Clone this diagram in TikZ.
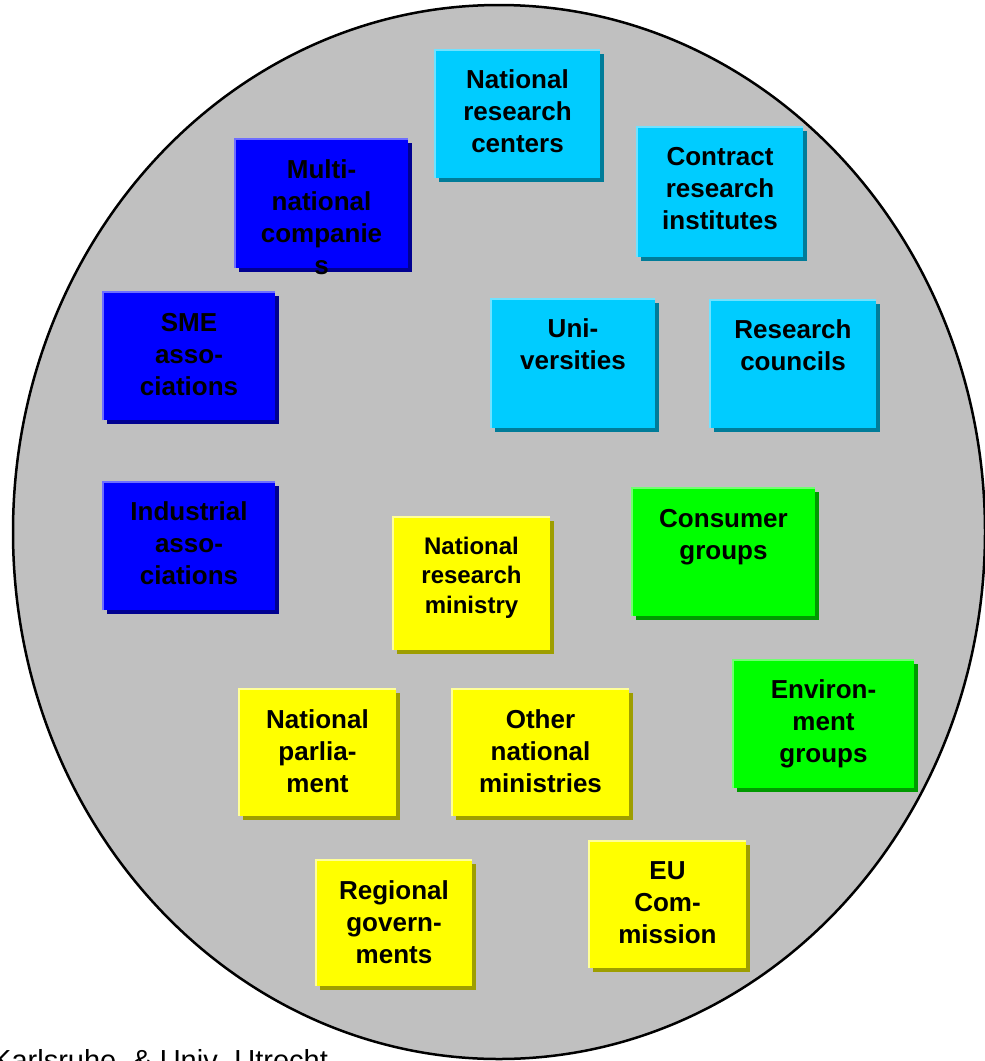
\documentclass[tikz,border=0pt]{standalone}
\usepackage{fontspec}
\setmainfont{Liberation Sans}
\usetikzlibrary{shadows,calc}
\definecolor{bgray}{HTML}{C0C0C0}
\definecolor{cyanf}{HTML}{00CCFF}
\definecolor{cyanl}{HTML}{70E2FF}
\definecolor{cyand}{HTML}{007C99}
\definecolor{bluef}{HTML}{0000FF}
\definecolor{bluel}{HTML}{6E6EFF}
\definecolor{blued}{HTML}{000090}
\definecolor{yelf}{HTML}{FFFF00}
\definecolor{yell}{HTML}{FFFF99}
\definecolor{yeld}{HTML}{9E9E00}
\definecolor{grnf}{HTML}{00FF00}
\definecolor{grnl}{HTML}{70FF70}
\definecolor{grnd}{HTML}{009A00}
\newcommand{\fstrut}{\rule{0pt}{20pt}}
\tikzset{
  card/.style={rectangle, inner sep=0pt, draw=none},
  cyancard/.style={card, fill=cyanf, drop shadow={shadow xshift=4pt, shadow yshift=-4pt, fill=cyand, opacity=1}},
  bluecard/.style={card, fill=bluef, drop shadow={shadow xshift=4pt, shadow yshift=-4pt, fill=blued, opacity=1}},
  yelcard/.style={card, fill=yelf, drop shadow={shadow xshift=4pt, shadow yshift=-4pt, fill=yeld, opacity=1}},
  grncard/.style={card, fill=grnf, drop shadow={shadow xshift=4pt, shadow yshift=-4pt, fill=grnd, opacity=1}},
  hl/.style={line width=2.5pt},
  lbl/.style={anchor=north, inner sep=0pt, align=center, font=\bfseries\fontsize{26}{32}\selectfont},
  lbls/.style={anchor=north, inner sep=0pt, align=center, font=\bfseries\fontsize{24}{29.5}\selectfont},
}
\begin{document}
\begin{tikzpicture}[x=1pt,y=-1pt]
\useasboundingbox (0,0) rectangle (985,1061);
\clip (0,0) rectangle (985,1061);
\fill[white] (0,0) rectangle (985,1061);
\draw[fill=bgray, line width=2.5pt] (499,532) ellipse [x radius=486pt, y radius=527pt];

% cyan cards
\node[cyancard, minimum width=165pt, minimum height=128pt] (natcent) at (517.5,114) {};
\draw[hl, cyanl] (natcent.south west) -- (natcent.north west) -- (natcent.north east);
\node[lbl] (natcent-t) at ($(natcent.north)+(0,18)$) {\fstrut National\\research\\centers};

\node[cyancard, minimum width=166pt, minimum height=130pt] (contract) at (720,192) {};
\draw[hl, cyanl] (contract.south west) -- (contract.north west) -- (contract.north east);
\node[lbl] (contract-t) at ($(contract.north)+(0,18)$) {\fstrut Contract\\research\\institutes};

\node[cyancard, minimum width=164pt, minimum height=129pt] (univ) at (573,363.5) {};
\draw[hl, cyanl] (univ.south west) -- (univ.north west) -- (univ.north east);
\node[lbl] (univ-t) at ($(univ.north)+(0,18)$) {\fstrut Uni-\\versities};

\node[cyancard, minimum width=166pt, minimum height=128pt] (rescoun) at (793,364) {};
\draw[hl, cyanl] (rescoun.south west) -- (rescoun.north west) -- (rescoun.north east);
\node[lbl] (rescoun-t) at ($(rescoun.north)+(0,18)$) {\fstrut Research\\councils};

% blue cards
\node[bluecard, minimum width=173pt, minimum height=129pt] (multi) at (321.5,203.5) {};
\draw[hl, bluel] (multi.south west) -- (multi.north west) -- (multi.north east);
\node[lbl] (multi-t) at ($(multi.north)+(0,19)$) {\fstrut Multi-\\national\\companie\\s};

\node[bluecard, minimum width=172pt, minimum height=128pt] (sme) at (189,356) {};
\draw[hl, bluel] (sme.south west) -- (sme.north west) -- (sme.north east);
\node[lbl] (sme-t) at ($(sme.north)+(0,19)$) {\fstrut SME\\asso-\\ciations};

\node[bluecard, minimum width=172pt, minimum height=128pt] (indus) at (189,546) {};
\draw[hl, bluel] (indus.south west) -- (indus.north west) -- (indus.north east);
\node[lbl] (indus-t) at ($(indus.north)+(0,18)$) {\fstrut Industrial\\asso-\\ciations};

% green cards
\node[grncard, minimum width=183pt, minimum height=128pt] (consumer) at (723.5,552) {};
\draw[hl, grnl] (consumer.south west) -- (consumer.north west) -- (consumer.north east);
\node[lbl] (consumer-t) at ($(consumer.north)+(0,19)$) {\fstrut Consumer\\groups};

\node[grncard, minimum width=181pt, minimum height=128pt] (environ) at (823.5,724) {};
\draw[hl, grnl] (environ.south west) -- (environ.north west) -- (environ.north east);
\node[lbl] (environ-t) at ($(environ.north)+(0,18)$) {\fstrut Environ-\\ment\\groups};

% yellow cards
\node[yelcard, minimum width=157pt, minimum height=133pt] (ministry) at (471.5,583.5) {};
\draw[hl, yell] (ministry.south west) -- (ministry.north west) -- (ministry.north east);
\node[lbls] (ministry-t) at ($(ministry.north)+(0,17)$) {\fstrut National\\research\\ministry};

\node[yelcard, minimum width=157pt, minimum height=127pt] (parl) at (317.5,752.5) {};
\draw[hl, yell] (parl.south west) -- (parl.north west) -- (parl.north east);
\node[lbl] (parl-t) at ($(parl.north)+(0,19)$) {\fstrut National\\parlia-\\ment};

\node[yelcard, minimum width=177pt, minimum height=127pt] (others) at (540.5,752.5) {};
\draw[hl, yell] (others.south west) -- (others.north west) -- (others.north east);
\node[lbl] (others-t) at ($(others.north)+(0,19)$) {\fstrut Other\\national\\ministries};

\node[yelcard, minimum width=156pt, minimum height=126pt] (regional) at (394,923) {};
\draw[hl, yell] (regional.south west) -- (regional.north west) -- (regional.north east);
\node[lbl] (regional-t) at ($(regional.north)+(0,19)$) {\fstrut Regional\\govern-\\ments};

\node[yelcard, minimum width=157pt, minimum height=127pt] (eu) at (667.5,904.5) {};
\draw[hl, yell] (eu.south west) -- (eu.north west) -- (eu.north east);
\node[lbl] (eu-t) at ($(eu.north)+(0,18)$) {\fstrut EU\\Com-\\mission};

% source line (cut off at the bottom edge)
\node[anchor=base west, inner sep=0pt, font=\fontsize{29}{34}\selectfont] (src) at (-8,1070) {Karlsruhe, \& Univ. Utrecht};
\end{tikzpicture}
\end{document}
